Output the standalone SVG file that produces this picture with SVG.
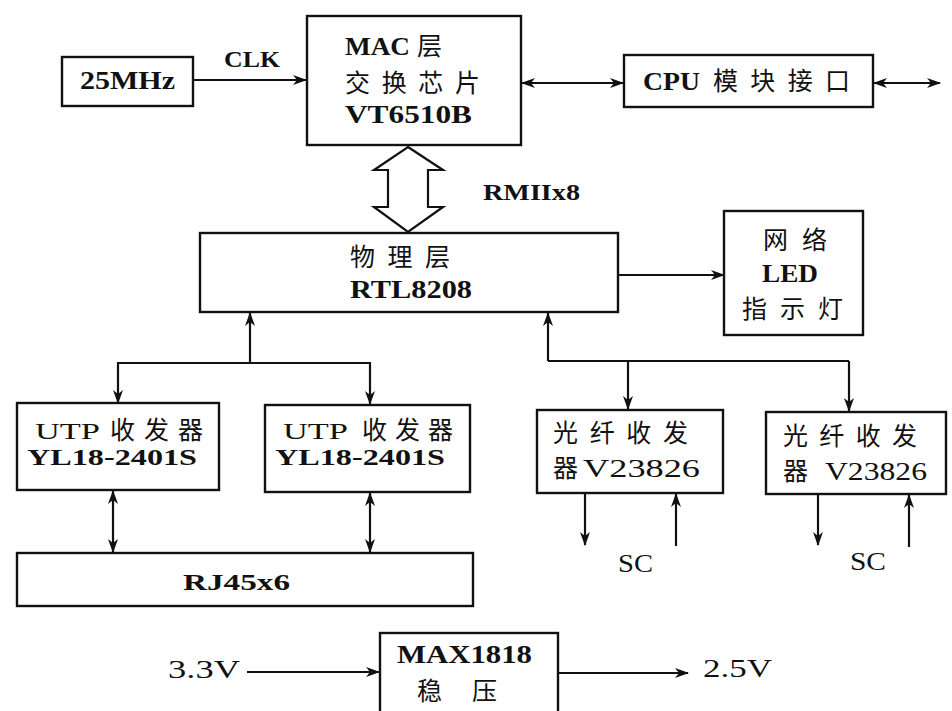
<svg xmlns="http://www.w3.org/2000/svg" width="952" height="711" viewBox="0 0 952 711">
<defs>
<style>
.box{fill:none;stroke:#111;stroke-width:2.4}
.ln{fill:none;stroke:#111;stroke-width:2.2}
text{font-family:"Liberation Serif","Noto Sans CJK SC",serif;font-size:26px;fill:#111}
.c{font-family:"Noto Sans CJK SC","Liberation Serif",sans-serif;font-size:25px}
.b{font-weight:bold}
.s{font-size:23px}
</style>
<marker id="ah" viewBox="0 0 14 10" refX="13" refY="5" markerWidth="14" markerHeight="10" markerUnits="userSpaceOnUse" orient="auto-start-reverse">
<path d="M0,0 L14,5 L0,10 L4,5 z" fill="#111"/>
</marker>
</defs>
<rect width="952" height="711" fill="#fff"/>

<g id="connectors">
<line class="ln" x1="193" y1="80" x2="306" y2="80" marker-end="url(#ah)"/>
<line class="ln" x1="522" y1="83" x2="623" y2="83" marker-start="url(#ah)" marker-end="url(#ah)"/>
<line class="ln" x1="874" y1="83" x2="940" y2="83" marker-start="url(#ah)" marker-end="url(#ah)"/>
<polygon points="408,147 443,170 428,170 428,207 443,207 408,232 374,207 388,207 388,170 374,170" fill="#fff" stroke="#111" stroke-width="2.2" stroke-linejoin="miter"/>
<line class="ln" x1="618" y1="275" x2="724" y2="275" marker-end="url(#ah)"/>
<line class="ln" x1="250" y1="363" x2="250" y2="313" marker-end="url(#ah)"/>
<polyline class="ln" points="118,403 118,363 370,363 370,404" marker-start="url(#ah)" marker-end="url(#ah)"/>
<line class="ln" x1="548" y1="361" x2="548" y2="313" marker-end="url(#ah)"/>
<line class="ln" x1="548" y1="361" x2="849" y2="361"/>
<line class="ln" x1="628" y1="361" x2="628" y2="409" marker-end="url(#ah)"/>
<line class="ln" x1="849" y1="361" x2="849" y2="411" marker-end="url(#ah)"/>
<line class="ln" x1="113" y1="491" x2="113" y2="552" marker-start="url(#ah)" marker-end="url(#ah)"/>
<line class="ln" x1="370" y1="493" x2="370" y2="552" marker-start="url(#ah)" marker-end="url(#ah)"/>
<line class="ln" x1="585" y1="494" x2="585" y2="545" marker-end="url(#ah)"/>
<line class="ln" x1="676" y1="546" x2="676" y2="494" marker-end="url(#ah)"/>
<line class="ln" x1="818" y1="495" x2="818" y2="545" marker-end="url(#ah)"/>
<line class="ln" x1="909" y1="547" x2="909" y2="495" marker-end="url(#ah)"/>
<line class="ln" x1="247" y1="672" x2="379" y2="672" marker-end="url(#ah)"/>
<line class="ln" x1="559" y1="673" x2="688" y2="673" marker-end="url(#ah)"/>
<text x="224" y="67" textLength="56" lengthAdjust="spacingAndGlyphs" class="b s">CLK</text>
<text x="483" y="200" textLength="97" lengthAdjust="spacingAndGlyphs" class="b s">RMIIx8</text>
<text x="618" y="572" textLength="35" lengthAdjust="spacingAndGlyphs">SC</text>
<text x="850" y="570" textLength="36" lengthAdjust="spacingAndGlyphs">SC</text>
<text x="168" y="678" textLength="72" lengthAdjust="spacingAndGlyphs">3.3V</text>
<text x="703" y="677" textLength="69" lengthAdjust="spacingAndGlyphs">2.5V</text>
</g>

<g id="osc">
<rect class="box" x="62" y="57" width="131" height="49"/>
<text x="80" y="89" textLength="95" lengthAdjust="spacingAndGlyphs" class="b">25MHz</text>
</g>

<g id="mac">
<rect class="box" x="307" y="16" width="214" height="129"/>
<text x="345" y="55" textLength="65" lengthAdjust="spacingAndGlyphs" class="b">MAC</text>
<text x="417" y="55" class="c">层</text>
<text x="345" y="92" textLength="135" lengthAdjust="spacing" class="c">交换芯片</text>
<text x="345" y="123" textLength="127" lengthAdjust="spacingAndGlyphs" class="b">VT6510B</text>
</g>

<g id="cpu">
<rect class="box" x="624" y="55" width="249" height="52"/>
<text x="643" y="90" textLength="57" lengthAdjust="spacingAndGlyphs" class="b">CPU</text>
<text x="713" y="90" textLength="137" lengthAdjust="spacing" class="c">模块接口</text>
</g>

<g id="phy">
<rect class="box" x="200" y="233" width="418" height="79"/>
<text x="350" y="266" textLength="100" lengthAdjust="spacing" class="c">物理层</text>
<text x="350" y="298" textLength="122" lengthAdjust="spacingAndGlyphs" class="b">RTL8208</text>
</g>

<g id="led">
<rect class="box" x="724" y="211" width="139" height="124"/>
<text x="763" y="249" textLength="64" lengthAdjust="spacing" class="c">网络</text>
<text x="762" y="282" textLength="56" lengthAdjust="spacingAndGlyphs" class="b">LED</text>
<text x="742" y="318" textLength="101" lengthAdjust="spacing" class="c">指示灯</text>
</g>

<g id="utp1">
<rect class="box" x="17" y="403" width="202" height="87"/>
<text x="35" y="439" textLength="65" lengthAdjust="spacingAndGlyphs" class="s">UTP</text>
<text x="110" y="439" textLength="93" lengthAdjust="spacing" class="c">收发器</text>
<text x="27" y="465" textLength="170" lengthAdjust="spacingAndGlyphs" class="b s">YL18-2401S</text>
</g>

<g id="utp2">
<rect class="box" x="265" y="405" width="205" height="87"/>
<text x="283" y="439" textLength="65" lengthAdjust="spacingAndGlyphs" class="s">UTP</text>
<text x="362" y="439" textLength="91" lengthAdjust="spacing" class="c">收发器</text>
<text x="275" y="465" textLength="170" lengthAdjust="spacingAndGlyphs" class="b s">YL18-2401S</text>
</g>

<g id="fiber1">
<rect class="box" x="537" y="410" width="186" height="83"/>
<text x="553" y="442" textLength="135" lengthAdjust="spacing" class="c">光纤收发</text>
<text x="553" y="477" class="c">器</text>
<text x="583" y="477" textLength="117" lengthAdjust="spacingAndGlyphs">V23826</text>
</g>

<g id="fiber2">
<rect class="box" x="766" y="412" width="180" height="82"/>
<text x="783" y="445" textLength="134" lengthAdjust="spacing" class="c">光纤收发</text>
<text x="783" y="480" class="c">器</text>
<text x="825" y="480" textLength="102" lengthAdjust="spacingAndGlyphs">V23826</text>
</g>

<g id="rj45">
<rect class="box" x="17" y="553" width="456" height="53"/>
<text x="183" y="590" textLength="107" lengthAdjust="spacingAndGlyphs" class="b s">RJ45x6</text>
</g>

<g id="max">
<rect class="box" x="380" y="633" width="178" height="90"/>
<text x="397" y="663" textLength="135" lengthAdjust="spacingAndGlyphs" class="b">MAX1818</text>
<text x="417" y="700" class="c">稳</text>
<text x="472" y="700" class="c">压</text>
</g>
</svg>
